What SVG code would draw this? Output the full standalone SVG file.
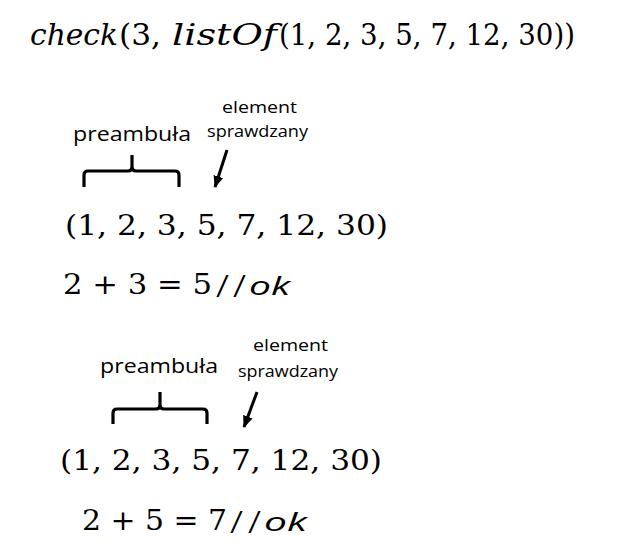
<svg xmlns="http://www.w3.org/2000/svg" width="639" height="559" viewBox="0 0 639 559">
<style>
.m{font-family:"DejaVu Serif","Liberation Serif",serif;fill:#000}
.mi{font-family:"DejaVu Serif","Liberation Serif",serif;font-style:italic;fill:#000}
.s{font-family:"Open Sans","Liberation Sans",sans-serif;fill:#000}
.si{font-family:"Open Sans","Liberation Sans",sans-serif;font-style:italic;fill:#000}
.sl{font-family:"Liberation Sans","Open Sans",sans-serif;font-style:italic;fill:#000}
.brace{fill:none;stroke:#000;stroke-width:3.2;stroke-linecap:butt;stroke-linejoin:round}
.arrow{fill:none;stroke:#000;stroke-width:3;marker-end:url(#ah)}
</style>
<defs>
<marker id="ah" viewBox="0 0 12 10" refX="11" refY="5" markerWidth="12" markerHeight="11" markerUnits="userSpaceOnUse" orient="auto">
<path d="M0,0 L12,5 L0,10 z" fill="#000"/>
</marker>
</defs>
<rect width="639" height="559" fill="#fff"/>
<g id="title">
<text class="mi" x="30" y="45" font-size="29" textLength="88" lengthAdjust="spacingAndGlyphs">check</text>
<text class="m" x="119" y="45" font-size="29" textLength="42" lengthAdjust="spacingAndGlyphs">(3,</text>
<text class="mi" x="172" y="45" font-size="29" textLength="105" lengthAdjust="spacingAndGlyphs">listOf</text>
<text class="m" x="279" y="45" font-size="29" textLength="296" lengthAdjust="spacingAndGlyphs">(1, 2, 3, 5, 7, 12, 30))</text>
</g>
<g id="example1">
<g id="preamble1">
<text class="s" x="73" y="141" font-size="20" textLength="118" lengthAdjust="spacingAndGlyphs">preambuła</text>
</g>
<g id="checked1">
<text class="s" x="222" y="113" font-size="17" textLength="75" lengthAdjust="spacingAndGlyphs">element</text>
<text class="s" x="207" y="137" font-size="17" textLength="101" lengthAdjust="spacingAndGlyphs">sprawdzany</text>
</g>
<g id="list1">
<text class="m" x="65" y="235" font-size="28" textLength="323" lengthAdjust="spacingAndGlyphs">(1, 2, 3, 5, 7, 12, 30)</text>
</g>
<g id="eq1">
<text class="m" x="63" y="294" font-size="27" textLength="149" lengthAdjust="spacingAndGlyphs">2 + 3 = 5</text>
<text class="sl" x="218" y="297" font-size="29" textLength="25" lengthAdjust="spacing">//</text>
<text class="si" x="249" y="295" font-size="25" textLength="41" lengthAdjust="spacingAndGlyphs">ok</text>
</g>
</g>
<g id="example2">
<g id="preamble2">
<text class="s" x="100" y="373" font-size="20" textLength="118" lengthAdjust="spacingAndGlyphs">preambuła</text>
</g>
<g id="checked2">
<text class="s" x="253" y="351" font-size="17" textLength="75" lengthAdjust="spacingAndGlyphs">element</text>
<text class="s" x="238" y="377" font-size="17" textLength="100" lengthAdjust="spacingAndGlyphs">sprawdzany</text>
</g>
<g id="list2">
<text class="m" x="60" y="470" font-size="28" textLength="322" lengthAdjust="spacingAndGlyphs">(1, 2, 3, 5, 7, 12, 30)</text>
</g>
<g id="eq2">
<text class="m" x="82" y="530" font-size="27" textLength="145" lengthAdjust="spacingAndGlyphs">2 + 5 = 7</text>
<text class="sl" x="232" y="533" font-size="29" textLength="26" lengthAdjust="spacing">//</text>
<text class="si" x="264" y="531" font-size="25" textLength="43" lengthAdjust="spacingAndGlyphs">ok</text>
</g>
</g>
<g id="connectors">
<path class="brace" d="M84,187 V175 Q84,171 88,171 H128 Q132,171 132,167 V155 M132,167 Q132,171 136,171 H175 Q179,171 179,175 V187"/>
<path class="arrow" d="M227,150 L215,187"/>
<path class="brace" d="M113,424 V413 Q113,409 117,409 H156 Q160,409 160,405 V392 M160,405 Q160,409 164,409 H203 Q207,409 207,413 V424"/>
<path class="arrow" d="M257,392 L244,427"/>
</g>
</svg>
